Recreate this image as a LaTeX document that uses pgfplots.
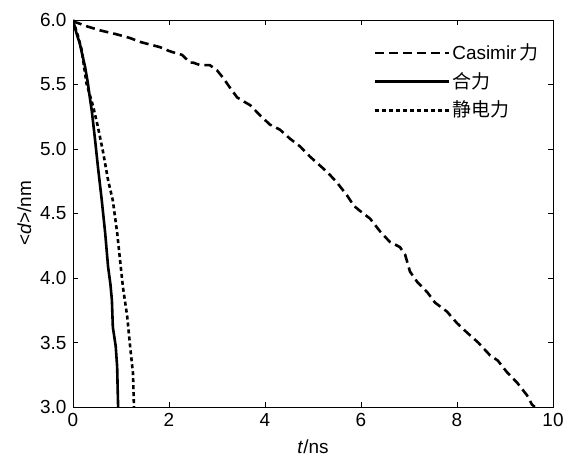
\documentclass[border=0pt]{standalone}
\usepackage{pgfplots}
\pgfplotsset{compat=1.18}
\usepackage{fontspec}
\setmainfont{Liberation Sans}
\newfontfamily\cjk{Noto Sans CJK SC}
\begin{document}
\fontsize{19}{23}\selectfont
\begin{tikzpicture}
\begin{axis}[
  scale only axis,
  width=480bp, height=387bp,
  xmin=0, xmax=10, ymin=3, ymax=6,
  xtick={0,2,4,6,8,10},
  ytick={3,3.5,4,4.5,5,5.5,6},
  yticklabel style={/pgf/number format/.cd, fixed, fixed zerofill, precision=1},
  /pgf/number format/assume math mode=true,
  tick align=inside,
  major tick length=5bp,
  axis line style={line width=0.8bp},
  tick style={line width=0.8bp, black},
  xlabel={\textit{t}/ns},
  ylabel={<\textit{d}>/nm},
  ylabel style={yshift=-4bp},
  tick label style={font=\fontsize{19}{23}\selectfont},
  label style={font=\fontsize{19}{23}\selectfont},
  legend style={draw=none, fill=none, at={(0.62,0.95)}, anchor=north west,
    font=\fontsize{19}{23}\selectfont, row sep=6bp},
  legend cell align=left,
  legend image code/.code={\draw[#1] (0bp,0bp) -- (67bp,0bp); \path (0bp,0bp) -- (74bp,0bp);},
]
\addplot[black, line width=2.6bp, dash pattern=on 9bp off 5bp] coordinates {
(0,5.99) (0.3,5.95) (0.56,5.92) (0.9,5.89) (1.19,5.86) (1.4,5.83) (1.6,5.81) (1.81,5.79)
(2.0,5.76) (2.17,5.74) (2.27,5.73) (2.44,5.67) (2.5,5.67) (2.65,5.65) (2.85,5.65)
(3.0,5.61) (3.13,5.55) (3.3,5.46) (3.42,5.40) (3.55,5.37) (3.69,5.34) (3.9,5.26)
(4.1,5.19) (4.31,5.15) (4.52,5.08) (4.73,5.02) (4.94,4.94) (5.21,4.85) (5.35,4.80)
(5.5,4.74) (5.71,4.64) (5.85,4.56) (5.98,4.52) (6.19,4.46) (6.4,4.36) (6.6,4.28)
(6.81,4.24) (6.92,4.18) (7.02,4.05) (7.17,3.97) (7.38,3.89) (7.54,3.81) (7.79,3.74)
(8.0,3.65) (8.2,3.58) (8.44,3.5) (8.69,3.4) (8.85,3.36) (9.04,3.27) (9.25,3.19)
(9.46,3.09) (9.56,3.02) (9.62,3.0)
};
\addlegendentry{Casimir\,{\cjk 力}}
\addplot[black, line width=2.6bp] coordinates {
(0,6.0) (0.07,5.9) (0.14,5.82) (0.2,5.72) (0.25,5.64) (0.31,5.51) (0.35,5.4) (0.39,5.3)
(0.46,5.07) (0.52,4.86) (0.56,4.73) (0.6,4.6) (0.67,4.35) (0.73,4.09) (0.78,3.95)
(0.81,3.83) (0.83,3.62) (0.89,3.47) (0.92,3.31) (0.93,3.15) (0.94,3.0)
};
\addlegendentry{{\cjk 合力}}
\addplot[black, line width=2.6bp, dash pattern=on 4bp off 3bp] coordinates {
(0,6.0) (0.1,5.88) (0.18,5.77) (0.23,5.64) (0.28,5.51) (0.35,5.42) (0.42,5.33)
(0.52,5.17) (0.63,4.97) (0.73,4.76) (0.83,4.6) (0.92,4.35) (0.98,4.14) (1.04,3.93)
(1.13,3.7) (1.19,3.47) (1.25,3.26) (1.27,3.0)
};
\addlegendentry{{\cjk 静电力}}
\end{axis}
\path (current axis.south west) ++(-73bp,-55bp) coordinate (bbA);
\path (current axis.north east) ++(17bp,20bp) coordinate (bbB);
\useasboundingbox (bbA) rectangle (bbB);
\end{tikzpicture}
\end{document}
